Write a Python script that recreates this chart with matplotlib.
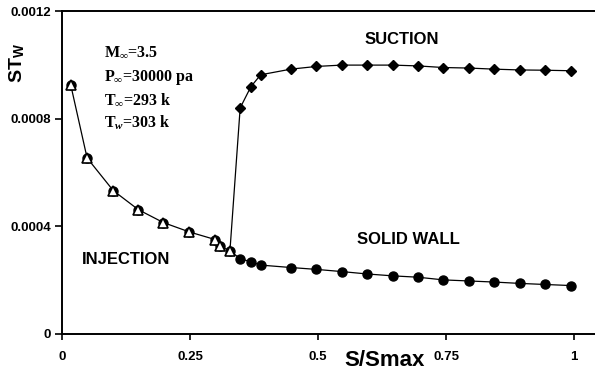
import numpy as np
import matplotlib
matplotlib.use("Agg")
import matplotlib.pyplot as plt

plt.rcParams['mathtext.fontset'] = 'custom'
plt.rcParams['mathtext.rm'] = 'Liberation Serif:bold'
plt.rcParams['mathtext.it'] = 'Liberation Serif:italic:bold'
plt.rcParams['mathtext.sf'] = 'Liberation Sans:bold'
plt.rcParams['mathtext.bf'] = 'Liberation Serif:bold'

# injection (open triangles) - shared start of all curves
x_inj = [0.017, 0.049, 0.100, 0.149, 0.198, 0.249, 0.299, 0.309, 0.328]
st_inj = [0.000926, 0.000654, 0.000533, 0.000462, 0.000414, 0.000379,
          0.000351, 0.000326, 0.000309]

# solid wall (filled circles) after the injection zone
x_down = [0.348, 0.369, 0.388, 0.447, 0.497, 0.546, 0.596, 0.646, 0.695,
          0.745, 0.795, 0.844, 0.894, 0.943, 0.994]
st_wall = [0.000280, 0.000268, 0.000256, 0.000247, 0.000240, 0.000232,
           0.000223, 0.000216, 0.000211, 0.000201, 0.000197, 0.000193,
           0.000188, 0.000184, 0.000180]

# suction (filled diamonds)
st_suction = [0.000840, 0.000919, 0.000963, 0.000984, 0.000994, 0.000999,
              0.000999, 0.000999, 0.000996, 0.000990, 0.000988, 0.000984,
              0.000981, 0.000980, 0.000978]

x_ticks = [0, 0.25, 0.5, 0.75, 1]
x_labels = ['0', '0.25', '0.5', '0.75', '1']
y_ticks = [0, 0.0004, 0.0008, 0.0012]
y_labels = ['0', '0.0004', '0.0008', '0.0012']

dpi = 100
fig = plt.figure(figsize=(595 / dpi, 378 / dpi), dpi=dpi)
ax = fig.add_axes([62 / 595, 1 - 334 / 378, 533 / 595, 323 / 378])

# lines
ax.plot(x_inj + x_down, st_inj + st_wall, color='black', lw=0.9, zorder=2)
ax.plot([x_inj[-1]] + x_down, [st_inj[-1]] + st_suction, color='black', lw=0.9, zorder=2)

# markers
ax.plot(x_inj + x_down, st_inj + st_wall, ls='none', marker='o', ms=6.5,
        color='black', zorder=3)
ax.plot(x_inj, st_inj, ls='none', marker='^', ms=7, mfc='white', mec='black',
        mew=1.2, zorder=4)
ax.plot(x_down, st_suction, ls='none', marker='D', ms=5.5, color='black', zorder=3)

ax.set_xlim(0, 533 / 512)
ax.set_ylim(0, 0.0012)
ax.spines['right'].set_visible(False)
for s in ['left', 'bottom', 'top']:
    ax.spines[s].set_linewidth(1.4)

ax.set_xticks(x_ticks)
ax.set_xticklabels(x_labels)
ax.set_yticks(y_ticks)
ax.set_yticklabels(y_labels)
ax.tick_params(axis='both', direction='out', width=1.2, labelsize=9.5)
ax.tick_params(axis='x', length=4, pad=8)
ax.tick_params(axis='y', length=5, pad=3)
for lab in ax.get_xticklabels() + ax.get_yticklabels():
    lab.set_fontfamily('Liberation Sans')
    lab.set_fontweight('bold')

# axis titles
fig.text(385 / 595, 1 - 360 / 378, 'S/Smax', fontsize=16, fontweight='bold',
         family='Liberation Sans', ha='center', va='center')
fig.text(17 / 595, 1 - 63 / 378, r'ST$_{\mathsf{W}}$', fontsize=14, fontweight='bold',
         family='Liberation Sans', ha='center', va='center', rotation=90)

# curve labels
def lab(x, y, s):
    fig.text(x / 595, 1 - y / 378, s, fontsize=12, fontweight='bold',
             family='Liberation Sans', ha='center', va='center')

lab(402, 40, 'SUCTION')
lab(408, 240, 'SOLID WALL')
lab(126, 260, 'INJECTION')

# flow conditions
cond = [r'M$_{\infty}$=3.5', r'P$_{\infty}$=30000 pa', r'T$_{\infty}$=293 k',
        r'T$_{\mathit{w}}$=303 k']
for i, s in enumerate(cond):
    fig.text(104 / 595, 1 - (57 + 23.7 * i) / 378, s, fontsize=11.5,
             fontweight='bold', family='Liberation Serif', ha='left',
             va='baseline')

fig.savefig('out.png', dpi=dpi)
